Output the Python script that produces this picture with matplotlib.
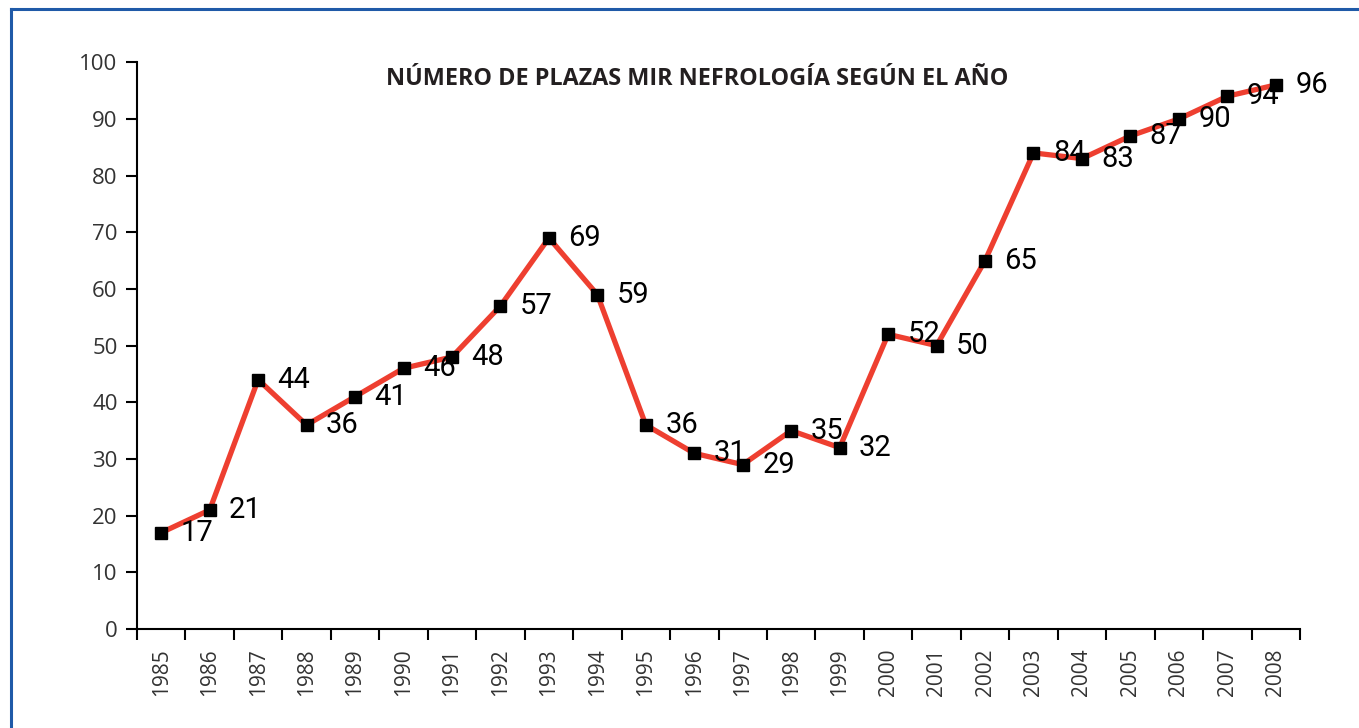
import numpy as np
import matplotlib
matplotlib.use('Agg')
import matplotlib.pyplot as plt
from matplotlib.lines import Line2D

years = ['1985', '1986', '1987', '1988', '1989', '1990', '1991', '1992',
         '1993', '1994', '1995', '1996', '1997', '1998', '1999', '2000',
         '2001', '2002', '2003', '2004', '2005', '2006', '2007', '2008']
plazas = [17, 21, 44, 36, 41, 46, 48, 57, 69, 59, 36, 31, 29, 35, 32, 52,
          50, 65, 84, 83, 87, 90, 94, 96]
title = 'NÚMERO DE PLAZAS MIR NEFROLOGÍA SEGÚN EL AÑO'

plt.rcParams['font.family'] = ['Open Sans', 'DejaVu Sans']

fig = plt.figure(figsize=(13.59, 7.28), dpi=100)
ax = fig.add_axes([0.1008, 0.136, 0.8558, 0.7785])

x = np.arange(len(years))
ax.plot(x, plazas, color='#ee3f30', linewidth=3.8, zorder=2)
ax.plot(x, plazas, linestyle='none', marker='s', markersize=8.5,
        color='black', zorder=3)

for xi, v in zip(x, plazas):
    ax.annotate(str(v), (xi, v), xytext=(14, 0), textcoords='offset points',
                ha='left', va='center', fontsize=21, color='black',
                family=['Roboto', 'DejaVu Sans'], zorder=4)

ax.set_xlim(-0.5, len(years) - 0.5)
ax.set_ylim(0, 100)
ax.set_yticks(np.arange(0, 101, 10))
# ticks between the years, labels in the middle
ax.set_xticks(np.arange(-0.5, len(years), 1))
ax.set_xticklabels([])
ax.set_xticks(x, minor=True)
ax.set_xticklabels(years, minor=True, rotation=90, fontsize=15, color='#333333')
ax.tick_params(axis='x', which='minor', length=0, pad=14)
ax.tick_params(axis='x', which='major', length=8, width=1.5, direction='out')
ax.tick_params(axis='y', length=8, width=1.5, direction='out',
               labelsize=16, labelcolor='#333333', pad=6)

for s in ['top', 'right']:
    ax.spines[s].set_visible(False)
for s in ['left', 'bottom']:
    ax.spines[s].set_linewidth(1.5)

ax.text(0.482, 0.97, title, transform=ax.transAxes, ha='center', va='center',
        fontsize=16.8, fontweight='bold', color='#231f20')

# blue frame
fig.add_artist(Line2D([0.0081, 0.0081], [0, 0.9875], transform=fig.transFigure,
                      color='#1f5aa8', linewidth=2.2))
fig.add_artist(Line2D([0.0081, 1], [0.9875, 0.9875], transform=fig.transFigure,
                      color='#1f5aa8', linewidth=2.2))

fig.savefig('out.png', dpi=100)
